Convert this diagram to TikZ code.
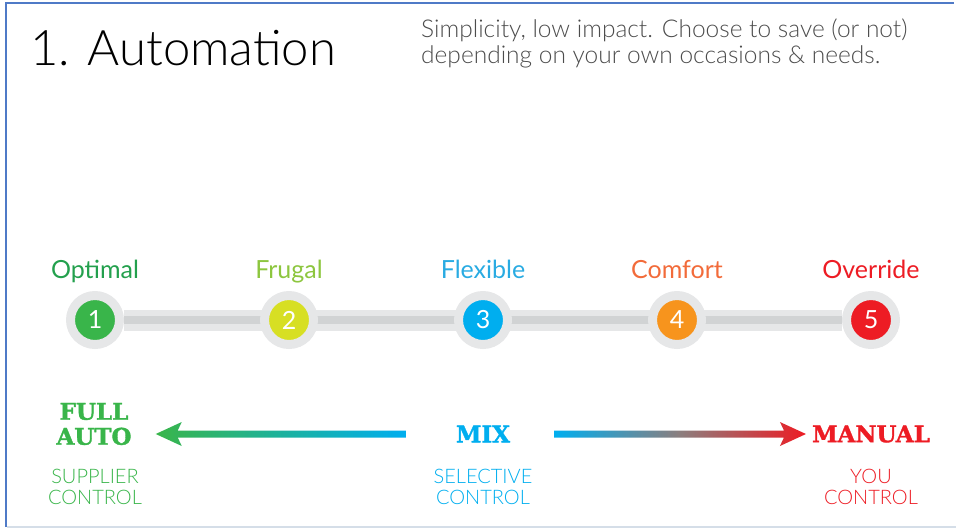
\documentclass[tikz,border=0pt]{standalone}
\usepackage{fontspec}
\setmainfont{Lato}
\newfontfamily\thinfont{Lato}[UprightFont={* Light}]
\newfontfamily\slabfont{DejaVu Serif}[BoldFont={* Bold}, BoldFeatures={FakeBold=1.5}]
\usepackage{tikz}
\usetikzlibrary{positioning,calc,backgrounds}
\definecolor{frameblue}{HTML}{4F7AC7}
\definecolor{frameline}{HTML}{D5DEE8}
\definecolor{ringgrey}{HTML}{E6E7E8}
\definecolor{bargrey}{HTML}{D1D3D4}
\definecolor{optgreen}{HTML}{23A04D}
\definecolor{dotgreen}{HTML}{39B54A}
\definecolor{frugal}{HTML}{8DC63F}
\definecolor{flexblue}{HTML}{29ABE2}
\definecolor{dotyellow}{HTML}{D7DF23}
\definecolor{dotblue}{HTML}{00AEEF}
\definecolor{comfort}{HTML}{F26B3A}
\definecolor{dotorange}{HTML}{F7941D}
\definecolor{dotred}{HTML}{ED1C24}
\definecolor{arrowmid}{HTML}{8C7E7E}

\begin{document}
\begin{tikzpicture}[x=1pt, y=-1pt,
	stepdot/.style={circle, fill=#1, draw=ringgrey, line width=9pt, minimum size=49pt, inner sep=0pt, text=white, font=\fontsize{25}{25}\selectfont},
	steplab/.style={text=#1, anchor=base, font=\fontsize{25}{25}\selectfont, inner sep=0pt},
	modelab/.style={text=#1, font=\slabfont\bfseries\fontsize{23}{25}\selectfont, align=center, inner sep=0pt},
	ctrllab/.style={text=#1, font=\thinfont\fontsize{20}{21}\selectfont, align=center, inner sep=0pt}]
	\useasboundingbox (0,0) rectangle (956,528);
	\draw [frameblue, line width=2.5pt] (6,527) -- (6,3) -- (954,3);
	\draw [frameline, line width=1.5pt] (7,527) -- (956,527);
	\node [anchor=base west, inner sep=0pt, font=\thinfont\fontsize{49}{49}\selectfont] (title) at (30,65) {1. Automation};
	\node [anchor=north west, inner sep=0pt, align=left, text=black!70, font=\thinfont\fontsize{24.5}{26}\selectfont] (intro) at (421,19) {Simplicity, low impact. Choose to save (or not)\\depending on your own occasions \& needs.};
	\node [stepdot=dotgreen] (s1) at (95,320) {1};
	\node [stepdot=dotyellow] (s2) at (289,320) {2};
	\node [stepdot=dotblue] (s3) at (483,320) {3};
	\node [stepdot=dotorange] (s4) at (677,320) {4};
	\node [stepdot=dotred] (s5) at (871,320) {5};
	\begin{pgfonlayer}{background}
		\draw [ringgrey, line width=21pt] (s1) -- (s5);
		\draw [bargrey, line width=8pt] (s1) -- (s5);
	\end{pgfonlayer}
	\node [steplab=optgreen] (l1) at (95,278) {Optimal};
	\node [steplab=frugal] (l2) at (289,278) {Frugal};
	\node [steplab=flexblue] (l3) at (483,278) {Flexible};
	\node [steplab=comfort] (l4) at (677,278) {Comfort};
	\node [steplab=dotred] (l5) at (871,278) {Override};
	\node [modelab=dotgreen] (auto) at (94,424) {FULL\\AUTO};
	\node [modelab=dotblue] (mix) at (483,434) {MIX};
	\node [modelab=dotred] (manual) at (871,434) {MANUAL};
	\node [ctrllab=dotgreen] (c1) at (95,487) {SUPPLIER\\CONTROL};
	\node [ctrllab=dotblue] (c3) at (483,487) {SELECTIVE\\CONTROL};
	\node [ctrllab=dotred] (c5) at (871,487) {YOU\\CONTROL};
	\coordinate [left=50pt of mix.west] (lstart);
	\coordinate [right=24pt of auto.east |- mix] (ltip);
	\coordinate [right=44pt of mix.east] (rstart);
	\coordinate [left=6pt of manual.west] (rtip);
	\shade [left color=dotgreen, right color=dotblue] let \p1=(ltip), \p2=(lstart) in
		(\x1,\y1) -- (\x1+26,\y1+12) -- (\x1+22,\y1+3.5) -- (\x2,\y1+3.5) -- (\x2,\y1-3.5) -- (\x1+22,\y1-3.5) -- (\x1+26,\y1-12) -- cycle;
	\shade [left color=dotblue, right color=dotred, middle color=arrowmid] let \p1=(rtip), \p2=(rstart) in
		(\x1,\y1) -- (\x1-26,\y1+12) -- (\x1-22,\y1+3.5) -- (\x2,\y1+3.5) -- (\x2,\y1-3.5) -- (\x1-22,\y1-3.5) -- (\x1-26,\y1-12) -- cycle;
\end{tikzpicture}
\end{document}
